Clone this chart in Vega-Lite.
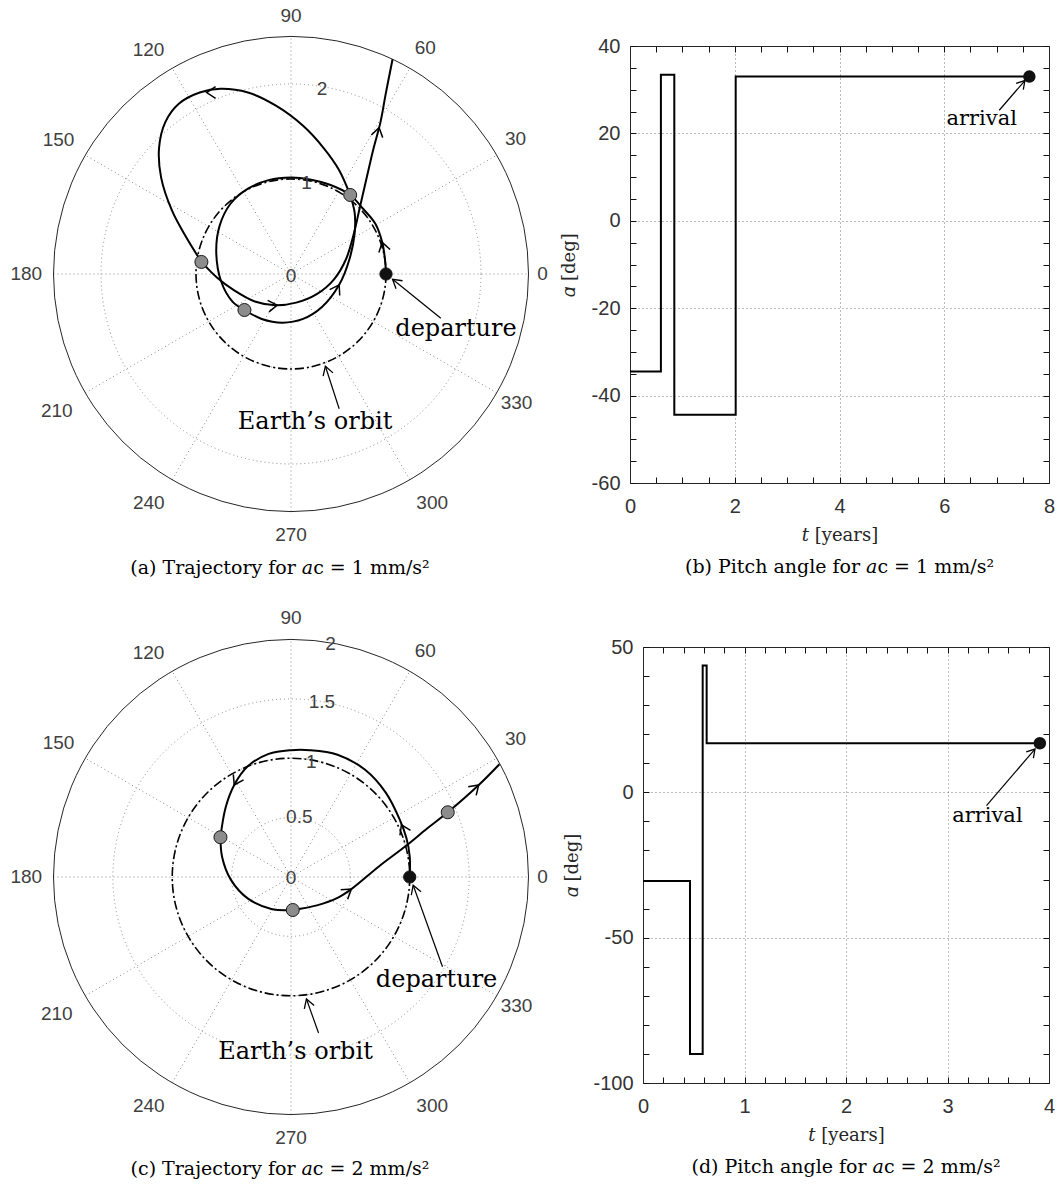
{
  "$schema": "https://vega.github.io/schema/vega-lite/v6.json",
  "background": "white",
  "padding": 0,
  "autosize": {"type": "pad"},
  "config": {
    "view": {"stroke": null},
    "title": {"font": "DejaVu Serif", "fontSize": 19, "fontWeight": "normal", "color": "black", "orient": "bottom", "anchor": "middle"}
  },
  "resolve": {"scale": {"size": "independent"}},
  "datasets": {
    "spokesA": [
      {"x": -2.5, "y": 0, "x2": 2.5, "y2": 0},
      {"x": -2.165, "y": -1.25, "x2": 2.165, "y2": 1.25},
      {"x": -1.25, "y": -2.165, "x2": 1.25, "y2": 2.165},
      {"x": 0, "y": -2.5, "x2": 0, "y2": 2.5},
      {"x": 1.25, "y": -2.165, "x2": -1.25, "y2": 2.165},
      {"x": 2.165, "y": -1.25, "x2": -2.165, "y2": 1.25}
    ],
    "spokesC": [
      {"x": -2, "y": 0, "x2": 2, "y2": 0},
      {"x": -1.732, "y": -1, "x2": 1.732, "y2": 1},
      {"x": -1, "y": -1.732, "x2": 1, "y2": 1.732},
      {"x": 0, "y": -2, "x2": 0, "y2": 2},
      {"x": 1, "y": -1.732, "x2": -1, "y2": 1.732},
      {"x": 1.732, "y": -1, "x2": -1.732, "y2": 1}
    ],
    "ringsA": [{"x": 0, "y": 0, "r": 1}, {"x": 0, "y": 0, "r": 2}],
    "outerA": [{"x": 0, "y": 0, "r": 2.5}],
    "ringsC": [{"x": 0, "y": 0, "r": 0.5}, {"x": 0, "y": 0, "r": 1}, {"x": 0, "y": 0, "r": 1.5}],
    "outerC": [{"x": 0, "y": 0, "r": 2}],
    "earth": [{"x": 0, "y": 0, "r": 1}],
    "trajA": [
      {"seg": "A", "i": 0, "x": 1.0, "y": 0.0},
      {"seg": "A", "i": 1, "x": 0.989, "y": 0.158},
      {"seg": "A", "i": 2, "x": 0.96, "y": 0.333},
      {"seg": "A", "i": 3, "x": 0.888, "y": 0.528},
      {"seg": "A", "i": 4, "x": 0.761, "y": 0.684},
      {"seg": "A", "i": 5, "x": 0.623, "y": 0.832},
      {"seg": "A", "i": 6, "x": 0.417, "y": 0.937},
      {"seg": "A", "i": 7, "x": 0.199, "y": 0.995},
      {"seg": "A", "i": 8, "x": 0.0, "y": 1.015},
      {"seg": "A", "i": 9, "x": -0.236, "y": 0.988},
      {"seg": "A", "i": 10, "x": -0.453, "y": 0.898},
      {"seg": "A", "i": 11, "x": -0.635, "y": 0.742},
      {"seg": "A", "i": 12, "x": -0.751, "y": 0.509},
      {"seg": "A", "i": 13, "x": -0.787, "y": 0.236},
      {"seg": "A", "i": 14, "x": -0.736, "y": -0.076},
      {"seg": "A", "i": 15, "x": -0.616, "y": -0.29},
      {"seg": "A", "i": 16, "x": -0.49, "y": -0.379},
      {"seg": "B", "i": 0, "x": -0.49, "y": -0.379},
      {"seg": "B", "i": 1, "x": -0.308, "y": -0.473},
      {"seg": "B", "i": 2, "x": -0.091, "y": -0.512},
      {"seg": "B", "i": 3, "x": 0.127, "y": -0.473},
      {"seg": "B", "i": 4, "x": 0.326, "y": -0.348},
      {"seg": "B", "i": 5, "x": 0.507, "y": -0.114},
      {"seg": "B", "i": 6, "x": 0.616, "y": 0.158},
      {"seg": "B", "i": 7, "x": 0.67, "y": 0.431},
      {"seg": "B", "i": 8, "x": 0.67, "y": 0.645},
      {"seg": "B", "i": 9, "x": 0.623, "y": 0.832},
      {"seg": "C", "i": 0, "x": 0.623, "y": 0.832},
      {"seg": "C", "i": 1, "x": 0.507, "y": 1.093},
      {"seg": "C", "i": 2, "x": 0.344, "y": 1.326},
      {"seg": "C", "i": 3, "x": 0.127, "y": 1.56},
      {"seg": "C", "i": 4, "x": -0.163, "y": 1.774},
      {"seg": "C", "i": 5, "x": -0.453, "y": 1.91},
      {"seg": "C", "i": 6, "x": -0.743, "y": 1.949},
      {"seg": "C", "i": 7, "x": -0.961, "y": 1.91},
      {"seg": "C", "i": 8, "x": -1.178, "y": 1.794},
      {"seg": "C", "i": 9, "x": -1.323, "y": 1.599},
      {"seg": "C", "i": 10, "x": -1.389, "y": 1.326},
      {"seg": "C", "i": 11, "x": -1.367, "y": 1.015},
      {"seg": "C", "i": 12, "x": -1.251, "y": 0.664},
      {"seg": "C", "i": 13, "x": -1.106, "y": 0.392},
      {"seg": "C", "i": 14, "x": -0.943, "y": 0.127},
      {"seg": "D", "i": 0, "x": -0.943, "y": 0.127},
      {"seg": "D", "i": 1, "x": -0.78, "y": -0.037},
      {"seg": "D", "i": 2, "x": -0.598, "y": -0.173},
      {"seg": "D", "i": 3, "x": -0.381, "y": -0.29},
      {"seg": "D", "i": 4, "x": -0.163, "y": -0.329},
      {"seg": "D", "i": 5, "x": 0.054, "y": -0.301},
      {"seg": "D", "i": 6, "x": 0.271, "y": -0.212},
      {"seg": "D", "i": 7, "x": 0.453, "y": -0.056},
      {"seg": "D", "i": 8, "x": 0.58, "y": 0.158},
      {"seg": "D", "i": 9, "x": 0.663, "y": 0.431},
      {"seg": "D", "i": 10, "x": 0.725, "y": 0.703},
      {"seg": "D", "i": 11, "x": 0.797, "y": 1.015},
      {"seg": "D", "i": 12, "x": 0.87, "y": 1.326},
      {"seg": "D", "i": 13, "x": 0.942, "y": 1.599},
      {"seg": "D", "i": 14, "x": 0.996, "y": 1.891},
      {"seg": "D", "i": 15, "x": 1.069, "y": 2.261}
    ],
    "trajC": [
      {"seg": "A", "i": 0, "x": 1.0, "y": 0.0},
      {"seg": "A", "i": 1, "x": 1.0, "y": 0.169},
      {"seg": "A", "i": 2, "x": 0.972, "y": 0.328},
      {"seg": "A", "i": 3, "x": 0.914, "y": 0.488},
      {"seg": "A", "i": 4, "x": 0.798, "y": 0.711},
      {"seg": "A", "i": 5, "x": 0.624, "y": 0.903},
      {"seg": "A", "i": 6, "x": 0.392, "y": 1.03},
      {"seg": "A", "i": 7, "x": 0.16, "y": 1.068},
      {"seg": "A", "i": 8, "x": 0.0, "y": 1.068},
      {"seg": "A", "i": 9, "x": -0.188, "y": 1.037},
      {"seg": "A", "i": 10, "x": -0.362, "y": 0.934},
      {"seg": "A", "i": 11, "x": -0.478, "y": 0.775},
      {"seg": "A", "i": 12, "x": -0.551, "y": 0.583},
      {"seg": "A", "i": 13, "x": -0.594, "y": 0.335},
      {"seg": "B", "i": 0, "x": -0.594, "y": 0.335},
      {"seg": "B", "i": 1, "x": -0.58, "y": 0.169},
      {"seg": "B", "i": 2, "x": -0.507, "y": -0.022},
      {"seg": "B", "i": 3, "x": -0.362, "y": -0.182},
      {"seg": "B", "i": 4, "x": -0.159, "y": -0.271},
      {"seg": "B", "i": 5, "x": 0.015, "y": -0.278},
      {"seg": "C", "i": 0, "x": 0.015, "y": -0.278},
      {"seg": "C", "i": 1, "x": 0.218, "y": -0.239},
      {"seg": "C", "i": 2, "x": 0.392, "y": -0.176},
      {"seg": "C", "i": 3, "x": 0.508, "y": -0.102},
      {"seg": "C", "i": 4, "x": 0.74, "y": 0.089},
      {"seg": "C", "i": 5, "x": 0.972, "y": 0.265},
      {"seg": "C", "i": 6, "x": 1.146, "y": 0.408},
      {"seg": "C", "i": 7, "x": 1.32, "y": 0.545},
      {"seg": "C", "i": 8, "x": 1.581, "y": 0.775},
      {"seg": "C", "i": 9, "x": 1.755, "y": 0.95}
    ],
    "arrowsA": [
      {"x": -0.888, "y": 1.91, "h": 180},
      {"x": 0.927, "y": 1.541, "h": 283},
      {"x": 0.96, "y": 0.333, "h": 255},
      {"x": 0.507, "y": -0.114, "h": 300},
      {"x": -0.145, "y": -0.327, "h": 353}
    ],
    "arrowsC": [
      {"x": 0.93, "y": 0.44, "h": 245},
      {"x": -0.478, "y": 0.775, "h": 118},
      {"x": 0.508, "y": -0.102, "h": 323},
      {"x": 1.581, "y": 0.775, "h": 317}
    ],
    "annotRulesA": [
      {"x": 1.577, "y": -0.465, "x2": 1.069, "y2": -0.056},
      {"x": 0.507, "y": -1.419, "x2": 0.362, "y2": -0.971}
    ],
    "annotHeadsA": [
      {"x": 1.069, "y": -0.056, "h": 219},
      {"x": 0.362, "y": -0.971, "h": 252}
    ],
    "annotTextA": [
      {"x": 1.737, "y": -0.579, "label": "departure"},
      {"x": 0.254, "y": -1.555, "label": "Earth’s orbit"}
    ],
    "annotRulesC": [
      {"x": 1.276, "y": -0.756, "x2": 1.029, "y2": -0.07},
      {"x": 0.232, "y": -1.314, "x2": 0.13, "y2": -1.027}
    ],
    "annotHeadsC": [
      {"x": 1.029, "y": -0.07, "h": 250},
      {"x": 0.13, "y": -1.027, "h": 251}
    ],
    "annotTextC": [
      {"x": 1.226, "y": -0.867, "label": "departure"},
      {"x": 0.038, "y": -1.474, "label": "Earth’s orbit"}
    ],
    "grayA": [
      {"x": 0.623, "y": 0.832},
      {"x": -0.943, "y": 0.127},
      {"x": -0.49, "y": -0.379}
    ],
    "grayC": [
      {"x": -0.594, "y": 0.335},
      {"x": 0.015, "y": -0.278},
      {"x": 1.32, "y": 0.545}
    ],
    "depart": [{"x": 1.0, "y": 0.0}],
    "ringLabA": [
      {"x": 0.326, "y": 1.947, "label": "2"},
      {"x": 0.163, "y": 0.958, "label": "1"},
      {"x": 0.0, "y": -0.017, "label": "0"}
    ],
    "ringLabC": [
      {"x": 0.333, "y": 1.96, "label": "2"},
      {"x": 0.26, "y": 1.475, "label": "1.5"},
      {"x": 0.17, "y": 0.97, "label": "1"},
      {"x": 0.07, "y": 0.505, "label": "0.5"},
      {"x": 0.0, "y": -0.01, "label": "0"}
    ],
    "angLabA": [
      {"x": 2.647, "y": 0, "label": "0"},
      {"x": 2.363, "y": 1.424, "label": "30"},
      {"x": 1.414, "y": 2.378, "label": "60"},
      {"x": 0, "y": 2.721, "label": "90"},
      {"x": -1.5, "y": 2.36, "label": "120"},
      {"x": -2.447, "y": 1.413, "label": "150"},
      {"x": -2.786, "y": 0, "label": "180"},
      {"x": -2.465, "y": -1.446, "label": "210"},
      {"x": -1.497, "y": -2.412, "label": "240"},
      {"x": 0, "y": -2.743, "label": "270"},
      {"x": 1.486, "y": -2.412, "label": "300"},
      {"x": 2.374, "y": -1.358, "label": "330"}
    ],
    "angLabC": [
      {"x": 2.118, "y": 0, "label": "0"},
      {"x": 1.891, "y": 1.164, "label": "30"},
      {"x": 1.131, "y": 1.902, "label": "60"},
      {"x": 0, "y": 2.177, "label": "90"},
      {"x": -1.2, "y": 1.888, "label": "120"},
      {"x": -1.958, "y": 1.13, "label": "150"},
      {"x": -2.229, "y": 0, "label": "180"},
      {"x": -1.972, "y": -1.157, "label": "210"},
      {"x": -1.198, "y": -1.93, "label": "240"},
      {"x": 0, "y": -2.194, "label": "270"},
      {"x": 1.189, "y": -1.93, "label": "300"},
      {"x": 1.899, "y": -1.086, "label": "330"}
    ],
    "pitchB": [
      {"x": 0, "y": -34.5},
      {"x": 0.59, "y": 33.4},
      {"x": 0.846, "y": -44.4},
      {"x": 2.018, "y": 33.0},
      {"x": 7.625, "y": 33.0}
    ],
    "arrB": [{"x": 7.625, "y": 33.0}],
    "annRuleB": [{"x": 7.05, "y": 25.3, "x2": 7.54, "y2": 32.1}],
    "annHeadB": [{"x": 7.54, "y": 32.1, "h": 311}],
    "annTextB": [{"x": 6.715, "y": 23.2, "label": "arrival"}],
    "pitchD": [
      {"x": 0, "y": -30.5},
      {"x": 0.463, "y": -90.0},
      {"x": 0.588, "y": 43.6},
      {"x": 0.627, "y": 16.9},
      {"x": 3.91, "y": 16.9}
    ],
    "arrD": [{"x": 3.91, "y": 16.9}],
    "annRuleD": [{"x": 3.384, "y": -4.6, "x2": 3.862, "y2": 14.9}],
    "annHeadD": [{"x": 3.862, "y": 14.9, "h": 311}],
    "annTextD": [{"x": 3.393, "y": -8.3, "label": "arrival"}]
  },
  "vconcat": [
    {
      "bounds": "flush",
      "center": true,
      "spacing": 70,
      "resolve": {"scale": {"size": "independent"}},
      "hconcat": [
        {
          "width": 560,
          "height": 529,
          "title": {"text": "(a)  Trajectory for 𝑎c = 1 mm/s²", "offset": 14},
          "encoding": {
            "x": {"field": "x", "type": "quantitative", "scale": {"domain": [-3.0632, 2.8316], "nice": false, "zero": false}, "axis": null},
            "y": {"field": "y", "type": "quantitative", "scale": {"domain": [-2.6842, 2.8842], "nice": false, "zero": false}, "axis": null}
          },
          "layer": [
            {"data": {"name": "spokesA"}, "mark": {"type": "rule", "stroke": "#8c8c8c", "strokeWidth": 1, "strokeDash": [1, 3]},
             "encoding": {"x2": {"field": "x2"}, "y2": {"field": "y2"}}},
            {"data": {"name": "ringsA"}, "mark": {"type": "point", "shape": "circle", "filled": false, "stroke": "#8c8c8c", "strokeWidth": 1, "strokeDash": [1, 3], "opacity": 1},
             "encoding": {"size": {"field": "r", "type": "quantitative", "legend": null, "scale": {"type": "pow", "exponent": 2, "domain": [0, 2.5], "range": [0, 225625], "zero": true, "nice": false}}}},
            {"data": {"name": "outerA"}, "mark": {"type": "point", "shape": "circle", "filled": false, "stroke": "#262626", "strokeWidth": 1, "opacity": 1},
             "encoding": {"size": {"field": "r", "type": "quantitative", "legend": null, "scale": {"type": "pow", "exponent": 2, "domain": [0, 2.5], "range": [0, 225625], "zero": true, "nice": false}}}},
            {"data": {"name": "earth"}, "mark": {"type": "point", "shape": "circle", "filled": false, "stroke": "black", "strokeWidth": 1.6, "strokeDash": [9, 3, 2, 3], "opacity": 1},
             "encoding": {"size": {"field": "r", "type": "quantitative", "legend": null, "scale": {"type": "pow", "exponent": 2, "domain": [0, 2.5], "range": [0, 225625], "zero": true, "nice": false}}}},
            {"data": {"name": "trajA"}, "mark": {"type": "line", "interpolate": "catmull-rom", "stroke": "black", "strokeWidth": 2},
             "encoding": {"detail": {"field": "seg"}, "order": {"field": "i", "type": "quantitative"}}},
            {"data": {"name": "arrowsA"}, "mark": {"type": "point", "shape": "M -1 -0.65 L 0 0 L -1 0.65", "filled": false, "stroke": "black", "strokeWidth": 1.5, "size": 320, "opacity": 1},
             "encoding": {"angle": {"field": "h", "type": "quantitative", "scale": null}}},
            {"data": {"name": "annotRulesA"}, "mark": {"type": "rule", "stroke": "black", "strokeWidth": 1.2},
             "encoding": {"x2": {"field": "x2"}, "y2": {"field": "y2"}}},
            {"data": {"name": "annotHeadsA"}, "mark": {"type": "point", "shape": "M -1 -0.6 L 0 0 L -1 0.6", "filled": false, "stroke": "black", "strokeWidth": 1.3, "size": 300, "opacity": 1},
             "encoding": {"angle": {"field": "h", "type": "quantitative", "scale": null}}},
            {"data": {"name": "grayA"}, "mark": {"type": "point", "shape": "circle", "filled": true, "fill": "#8c8c8c", "stroke": "#1a1a1a", "strokeWidth": 1, "size": 170, "opacity": 1}},
            {"data": {"name": "depart"}, "mark": {"type": "point", "shape": "circle", "filled": true, "fill": "#111111", "stroke": "#111111", "strokeWidth": 1, "size": 150, "opacity": 1}},
            {"data": {"name": "ringLabA"}, "mark": {"type": "text", "font": "Liberation Sans", "fontSize": 19, "fill": "#404040", "align": "center", "baseline": "middle"},
             "encoding": {"text": {"field": "label"}}},
            {"data": {"name": "angLabA"}, "mark": {"type": "text", "font": "Liberation Sans", "fontSize": 19, "fill": "#404040", "align": "center", "baseline": "middle"},
             "encoding": {"text": {"field": "label"}}},
            {"data": {"name": "annotTextA"}, "mark": {"type": "text", "font": "DejaVu Serif", "fontSize": 24, "fill": "black", "align": "center", "baseline": "middle"},
             "encoding": {"text": {"field": "label"}}}
          ]
        },
        {
          "width": 419,
          "height": 437,
          "title": {"text": "(b)  Pitch angle for 𝑎c = 1 mm/s²", "offset": 14},
          "resolve": {"axis": {"x": "independent", "y": "independent"}},
          "layer": [
            {"data": {"name": "pitchB"}, "mark": {"type": "line", "interpolate": "step-after", "stroke": "black", "strokeWidth": 2},
             "encoding": {
               "x": {"field": "x", "type": "quantitative", "scale": {"domain": [0, 8], "nice": false, "zero": false},
                 "axis": {"orient": "bottom", "values": [0, 0.5, 1, 1.5, 2, 2.5, 3, 3.5, 4, 4.5, 5, 5.5, 6, 6.5, 7, 7.5, 8],
                   "labelExpr": "datum.value % 2 === 0 ? '' + datum.value : ''", "labelOverlap": false, "labelFlush": false, "labelBound": false,
                   "labelFont": "Liberation Sans", "labelFontSize": 20, "labelColor": "#333333", "labelPadding": 19,
                   "ticks": true, "tickSize": -6, "tickColor": "#111111", "tickWidth": 1, "domain": true, "domainColor": "#262626", "domainWidth": 1,
                   "grid": true, "gridColor": "#777777", "gridDash": [1, 3], "gridWidth": 1,
                   "gridOpacity": {"condition": {"test": "datum.value % 2 === 0 && datum.value > 0 && datum.value < 8", "value": 1}, "value": 0},
                   "title": "𝑡 [years]", "titleFont": "DejaVu Serif", "titleFontSize": 18, "titleFontWeight": "normal", "titleColor": "#262626", "titlePadding": 10}},
               "y": {"field": "y", "type": "quantitative", "scale": {"domain": [-60, 40], "nice": false, "zero": false},
                 "axis": {"orient": "left", "values": [-60, -55, -50, -45, -40, -35, -30, -25, -20, -15, -10, -5, 0, 5, 10, 15, 20, 25, 30, 35, 40],
                   "labelExpr": "datum.value % 20 === 0 ? '' + datum.value : ''", "labelOverlap": false, "labelFlush": false, "labelBound": false,
                   "labelFont": "Liberation Sans", "labelFontSize": 20, "labelColor": "#333333", "labelPadding": 16,
                   "ticks": true, "tickSize": -6, "tickColor": "#111111", "tickWidth": 1, "domain": true, "domainColor": "#262626", "domainWidth": 1,
                   "grid": true, "gridColor": "#777777", "gridDash": [1, 3], "gridWidth": 1,
                   "gridOpacity": {"condition": {"test": "datum.value % 20 === 0 && datum.value > -60 && datum.value < 40", "value": 1}, "value": 0},
                   "title": "𝛼 [deg]", "titleFont": "DejaVu Serif", "titleFontSize": 18, "titleFontWeight": "normal", "titleColor": "#262626", "titlePadding": 13}}
             }},
            {"data": {"name": "arrB"}, "mark": {"type": "point", "shape": "circle", "filled": true, "fill": "#111111", "stroke": "#111111", "size": 110, "opacity": 1},
             "encoding": {
               "x": {"field": "x", "type": "quantitative", "scale": {"domain": [0, 8], "nice": false, "zero": false},
                 "axis": {"orient": "top", "values": [0, 0.5, 1, 1.5, 2, 2.5, 3, 3.5, 4, 4.5, 5, 5.5, 6, 6.5, 7, 7.5, 8], "labels": false, "grid": false,
                   "ticks": true, "tickSize": -6, "tickColor": "#111111", "domain": true, "domainColor": "#262626", "title": null}},
               "y": {"field": "y", "type": "quantitative", "scale": {"domain": [-60, 40], "nice": false, "zero": false},
                 "axis": {"orient": "right", "values": [-60, -55, -50, -45, -40, -35, -30, -25, -20, -15, -10, -5, 0, 5, 10, 15, 20, 25, 30, 35, 40], "labels": false, "grid": false,
                   "ticks": true, "tickSize": -6, "tickColor": "#111111", "domain": true, "domainColor": "#262626", "title": null}}
             }},
            {"data": {"name": "annRuleB"}, "mark": {"type": "rule", "stroke": "black", "strokeWidth": 1.2},
             "encoding": {"x": {"field": "x", "type": "quantitative", "axis": null, "scale": {"domain": [0, 8], "nice": false, "zero": false}},
               "y": {"field": "y", "type": "quantitative", "axis": null, "scale": {"domain": [-60, 40], "nice": false, "zero": false}},
               "x2": {"field": "x2"}, "y2": {"field": "y2"}}},
            {"data": {"name": "annHeadB"}, "mark": {"type": "point", "shape": "M -1 -0.6 L 0 0 L -1 0.6", "filled": false, "stroke": "black", "strokeWidth": 1.3, "size": 250, "opacity": 1},
             "encoding": {"x": {"field": "x", "type": "quantitative", "axis": null, "scale": {"domain": [0, 8], "nice": false, "zero": false}},
               "y": {"field": "y", "type": "quantitative", "axis": null, "scale": {"domain": [-60, 40], "nice": false, "zero": false}},
               "angle": {"field": "h", "type": "quantitative", "scale": null}}},
            {"data": {"name": "annTextB"}, "mark": {"type": "text", "font": "DejaVu Serif", "fontSize": 21, "fill": "black", "align": "center", "baseline": "middle"},
             "encoding": {"x": {"field": "x", "type": "quantitative", "axis": null, "scale": {"domain": [0, 8], "nice": false, "zero": false}},
               "y": {"field": "y", "type": "quantitative", "axis": null, "scale": {"domain": [-60, 40], "nice": false, "zero": false}},
               "text": {"field": "label"}}}
          ]
        }
      ]
    },
    {
      "bounds": "flush",
      "center": true,
      "spacing": 83,
      "resolve": {"scale": {"size": "independent"}},
      "hconcat": [
        {
          "width": 560,
          "height": 524,
          "title": {"text": "(c)  Trajectory for 𝑎c = 2 mm/s²", "offset": 12},
          "encoding": {
            "x": {"field": "x", "type": "quantitative", "scale": {"domain": [-2.4505, 2.2653], "nice": false, "zero": false}, "axis": null},
            "y": {"field": "y", "type": "quantitative", "scale": {"domain": [-2.1053, 2.3074], "nice": false, "zero": false}, "axis": null}
          },
          "layer": [
            {"data": {"name": "spokesC"}, "mark": {"type": "rule", "stroke": "#8c8c8c", "strokeWidth": 1, "strokeDash": [1, 3]},
             "encoding": {"x2": {"field": "x2"}, "y2": {"field": "y2"}}},
            {"data": {"name": "ringsC"}, "mark": {"type": "point", "shape": "circle", "filled": false, "stroke": "#8c8c8c", "strokeWidth": 1, "strokeDash": [1, 3], "opacity": 1},
             "encoding": {"size": {"field": "r", "type": "quantitative", "legend": null, "scale": {"type": "pow", "exponent": 2, "domain": [0, 2], "range": [0, 225625], "zero": true, "nice": false}}}},
            {"data": {"name": "outerC"}, "mark": {"type": "point", "shape": "circle", "filled": false, "stroke": "#262626", "strokeWidth": 1, "opacity": 1},
             "encoding": {"size": {"field": "r", "type": "quantitative", "legend": null, "scale": {"type": "pow", "exponent": 2, "domain": [0, 2], "range": [0, 225625], "zero": true, "nice": false}}}},
            {"data": {"name": "earth"}, "mark": {"type": "point", "shape": "circle", "filled": false, "stroke": "black", "strokeWidth": 1.6, "strokeDash": [9, 3, 2, 3], "opacity": 1},
             "encoding": {"size": {"field": "r", "type": "quantitative", "legend": null, "scale": {"type": "pow", "exponent": 2, "domain": [0, 2], "range": [0, 225625], "zero": true, "nice": false}}}},
            {"data": {"name": "trajC"}, "mark": {"type": "line", "interpolate": "catmull-rom", "stroke": "black", "strokeWidth": 2},
             "encoding": {"detail": {"field": "seg"}, "order": {"field": "i", "type": "quantitative"}}},
            {"data": {"name": "arrowsC"}, "mark": {"type": "point", "shape": "M -1 -0.65 L 0 0 L -1 0.65", "filled": false, "stroke": "black", "strokeWidth": 1.5, "size": 320, "opacity": 1},
             "encoding": {"angle": {"field": "h", "type": "quantitative", "scale": null}}},
            {"data": {"name": "annotRulesC"}, "mark": {"type": "rule", "stroke": "black", "strokeWidth": 1.2},
             "encoding": {"x2": {"field": "x2"}, "y2": {"field": "y2"}}},
            {"data": {"name": "annotHeadsC"}, "mark": {"type": "point", "shape": "M -1 -0.6 L 0 0 L -1 0.6", "filled": false, "stroke": "black", "strokeWidth": 1.3, "size": 300, "opacity": 1},
             "encoding": {"angle": {"field": "h", "type": "quantitative", "scale": null}}},
            {"data": {"name": "grayC"}, "mark": {"type": "point", "shape": "circle", "filled": true, "fill": "#8c8c8c", "stroke": "#1a1a1a", "strokeWidth": 1, "size": 170, "opacity": 1}},
            {"data": {"name": "depart"}, "mark": {"type": "point", "shape": "circle", "filled": true, "fill": "#111111", "stroke": "#111111", "strokeWidth": 1, "size": 150, "opacity": 1}},
            {"data": {"name": "ringLabC"}, "mark": {"type": "text", "font": "Liberation Sans", "fontSize": 19, "fill": "#404040", "align": "center", "baseline": "middle"},
             "encoding": {"text": {"field": "label"}}},
            {"data": {"name": "angLabC"}, "mark": {"type": "text", "font": "Liberation Sans", "fontSize": 19, "fill": "#404040", "align": "center", "baseline": "middle"},
             "encoding": {"text": {"field": "label"}}},
            {"data": {"name": "annotTextC"}, "mark": {"type": "text", "font": "DejaVu Serif", "fontSize": 24, "fill": "black", "align": "center", "baseline": "middle"},
             "encoding": {"text": {"field": "label"}}}
          ]
        },
        {
          "width": 406,
          "height": 436,
          "title": {"text": "(d)  Pitch angle for 𝑎c = 2 mm/s²", "offset": 14},
          "resolve": {"axis": {"x": "independent", "y": "independent"}},
          "layer": [
            {"data": {"name": "pitchD"}, "mark": {"type": "line", "interpolate": "step-after", "stroke": "black", "strokeWidth": 2},
             "encoding": {
               "x": {"field": "x", "type": "quantitative", "scale": {"domain": [0, 4], "nice": false, "zero": false},
                 "axis": {"orient": "bottom", "values": [0, 0.2, 0.4, 0.6, 0.8, 1, 1.2, 1.4, 1.6, 1.8, 2, 2.2, 2.4, 2.6, 2.8, 3, 3.2, 3.4, 3.6, 3.8, 4],
                   "labelExpr": "datum.value % 1 === 0 ? '' + datum.value : ''", "labelOverlap": false, "labelFlush": false, "labelBound": false,
                   "labelFont": "Liberation Sans", "labelFontSize": 20, "labelColor": "#333333", "labelPadding": 19,
                   "ticks": true, "tickSize": -6, "tickColor": "#111111", "tickWidth": 1, "domain": true, "domainColor": "#262626", "domainWidth": 1,
                   "grid": true, "gridColor": "#777777", "gridDash": [1, 3], "gridWidth": 1,
                   "gridOpacity": {"condition": {"test": "datum.value % 1 === 0 && datum.value > 0 && datum.value < 4", "value": 1}, "value": 0},
                   "title": "𝑡 [years]", "titleFont": "DejaVu Serif", "titleFontSize": 18, "titleFontWeight": "normal", "titleColor": "#262626", "titlePadding": 10}},
               "y": {"field": "y", "type": "quantitative", "scale": {"domain": [-100, 50], "nice": false, "zero": false},
                 "axis": {"orient": "left", "values": [-100, -90, -80, -70, -60, -50, -40, -30, -20, -10, 0, 10, 20, 30, 40, 50],
                   "labelExpr": "datum.value % 50 === 0 ? '' + datum.value : ''", "labelOverlap": false, "labelFlush": false, "labelBound": false,
                   "labelFont": "Liberation Sans", "labelFontSize": 20, "labelColor": "#333333", "labelPadding": 16,
                   "ticks": true, "tickSize": -6, "tickColor": "#111111", "tickWidth": 1, "domain": true, "domainColor": "#262626", "domainWidth": 1,
                   "grid": true, "gridColor": "#777777", "gridDash": [1, 3], "gridWidth": 1,
                   "gridOpacity": {"condition": {"test": "datum.value % 50 === 0 && datum.value > -100 && datum.value < 50", "value": 1}, "value": 0},
                   "title": "𝛼 [deg]", "titleFont": "DejaVu Serif", "titleFontSize": 18, "titleFontWeight": "normal", "titleColor": "#262626", "titlePadding": 11}}
             }},
            {"data": {"name": "arrD"}, "mark": {"type": "point", "shape": "circle", "filled": true, "fill": "#111111", "stroke": "#111111", "size": 110, "opacity": 1},
             "encoding": {
               "x": {"field": "x", "type": "quantitative", "scale": {"domain": [0, 4], "nice": false, "zero": false},
                 "axis": {"orient": "top", "values": [0, 0.2, 0.4, 0.6, 0.8, 1, 1.2, 1.4, 1.6, 1.8, 2, 2.2, 2.4, 2.6, 2.8, 3, 3.2, 3.4, 3.6, 3.8, 4], "labels": false, "grid": false,
                   "ticks": true, "tickSize": -6, "tickColor": "#111111", "domain": true, "domainColor": "#262626", "title": null}},
               "y": {"field": "y", "type": "quantitative", "scale": {"domain": [-100, 50], "nice": false, "zero": false},
                 "axis": {"orient": "right", "values": [-100, -90, -80, -70, -60, -50, -40, -30, -20, -10, 0, 10, 20, 30, 40, 50], "labels": false, "grid": false,
                   "ticks": true, "tickSize": -6, "tickColor": "#111111", "domain": true, "domainColor": "#262626", "title": null}}
             }},
            {"data": {"name": "annRuleD"}, "mark": {"type": "rule", "stroke": "black", "strokeWidth": 1.2},
             "encoding": {"x": {"field": "x", "type": "quantitative", "axis": null, "scale": {"domain": [0, 4], "nice": false, "zero": false}},
               "y": {"field": "y", "type": "quantitative", "axis": null, "scale": {"domain": [-100, 50], "nice": false, "zero": false}},
               "x2": {"field": "x2"}, "y2": {"field": "y2"}}},
            {"data": {"name": "annHeadD"}, "mark": {"type": "point", "shape": "M -1 -0.6 L 0 0 L -1 0.6", "filled": false, "stroke": "black", "strokeWidth": 1.3, "size": 250, "opacity": 1},
             "encoding": {"x": {"field": "x", "type": "quantitative", "axis": null, "scale": {"domain": [0, 4], "nice": false, "zero": false}},
               "y": {"field": "y", "type": "quantitative", "axis": null, "scale": {"domain": [-100, 50], "nice": false, "zero": false}},
               "angle": {"field": "h", "type": "quantitative", "scale": null}}},
            {"data": {"name": "annTextD"}, "mark": {"type": "text", "font": "DejaVu Serif", "fontSize": 21, "fill": "black", "align": "center", "baseline": "middle"},
             "encoding": {"x": {"field": "x", "type": "quantitative", "axis": null, "scale": {"domain": [0, 4], "nice": false, "zero": false}},
               "y": {"field": "y", "type": "quantitative", "axis": null, "scale": {"domain": [-100, 50], "nice": false, "zero": false}},
               "text": {"field": "label"}}}
          ]
        }
      ]
    }
  ],
  "spacing": 25
}
